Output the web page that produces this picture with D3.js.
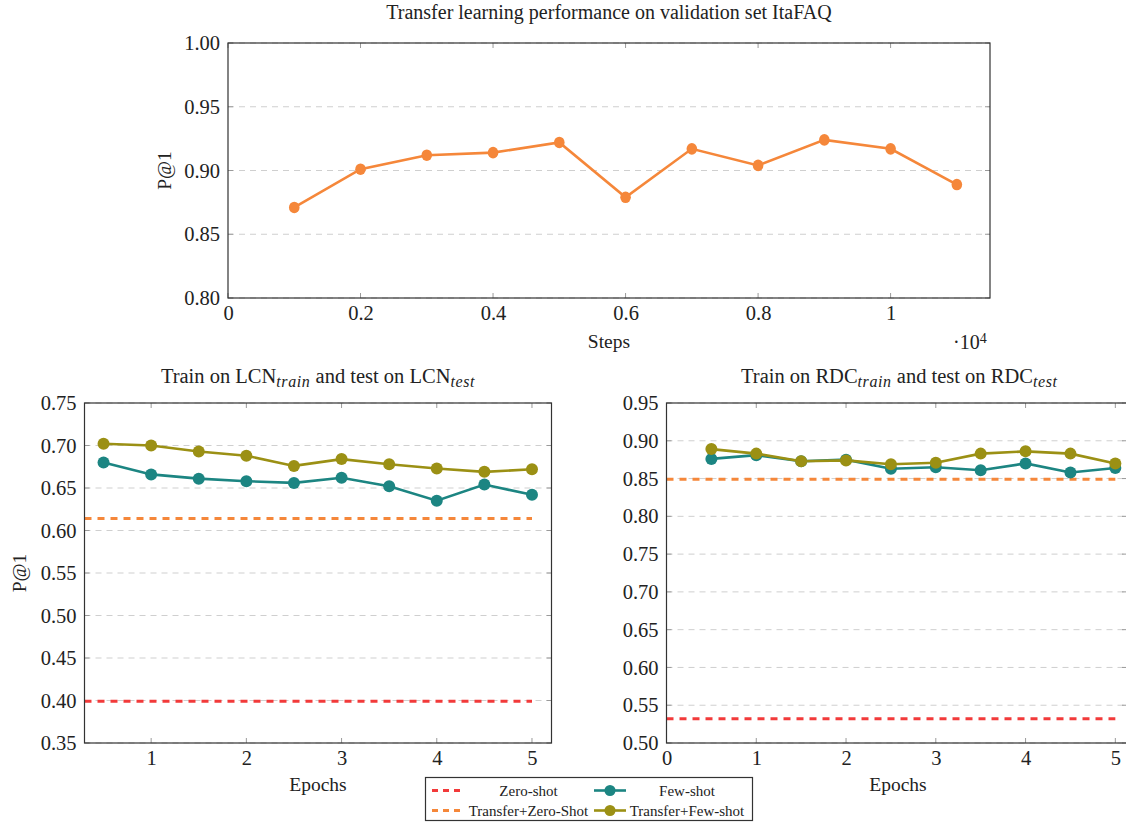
<!DOCTYPE html>
<html><head><meta charset="utf-8">
<script src="https://cdn.jsdelivr.net/npm/d3@7"></script>
<style>body{margin:0;background:#fff} svg{display:block} text{font-family:"Liberation Serif","DejaVu Serif",serif;fill:#222}</style>
</head><body>
<svg id="c" width="1126" height="822"></svg>
<script>
// ---- data ----
const topSteps = [1000, 2000, 3000, 4000, 5000, 6000, 7000, 8000, 9000, 10000, 11000];
const topP1 = [0.871, 0.901, 0.912, 0.914, 0.922, 0.879, 0.917, 0.904, 0.924, 0.917, 0.889];
const topXTicks = [0, 2000, 4000, 6000, 8000, 10000];
const topXTickLabels = ["0", "0.2", "0.4", "0.6", "0.8", "1"];
const topYTicks = [0.80, 0.85, 0.90, 0.95, 1.00];

const epochs = [0.5, 1, 1.5, 2, 2.5, 3, 3.5, 4, 4.5, 5];
const lcnFewShot = [0.680, 0.666, 0.661, 0.658, 0.656, 0.662, 0.652, 0.635, 0.654, 0.642];
const lcnTransferFewShot = [0.702, 0.700, 0.693, 0.688, 0.676, 0.684, 0.678, 0.673, 0.669, 0.672];
const lcnZeroShot = 0.399;
const lcnTransferZeroShot = 0.614;
const lcnXTicks = [1, 2, 3, 4, 5];
const lcnYTicks = [0.35, 0.40, 0.45, 0.50, 0.55, 0.60, 0.65, 0.70, 0.75];

const rdcFewShot = [0.876, 0.881, 0.873, 0.875, 0.863, 0.865, 0.861, 0.870, 0.858, 0.864];
const rdcTransferFewShot = [0.889, 0.883, 0.873, 0.874, 0.869, 0.871, 0.883, 0.886, 0.883, 0.870];
const rdcZeroShot = 0.532;
const rdcTransferZeroShot = 0.849;
const rdcXTicks = [0, 1, 2, 3, 4, 5];
const rdcYTicks = [0.50, 0.55, 0.60, 0.65, 0.70, 0.75, 0.80, 0.85, 0.90, 0.95];

const legendNames = ["Zero-shot", "Few-shot", "Transfer+Zero-Shot", "Transfer+Few-shot"];

const C = {red: "#f23a3a", orange: "#f5873a", teal: "#1c8582", olive: "#9b9014", frame: "#333", grid: "#cfcfcf", tick: "#9a9a9a"};
const FONT = "Liberation Serif, DejaVu Serif, serif";

const svg = d3.select("#c");
let clipId = 0;

function panel(o) {
  const x = d3.scaleLinear().domain(o.xDomain).range([o.left, o.right]);
  const y = d3.scaleLinear().domain(o.yDomain).range([o.bottom, o.top]);
  const g = svg.append("g");
  const id = "clip" + (clipId++);
  g.append("clipPath").attr("id", id).append("rect")
    .attr("x", o.left).attr("y", o.top).attr("width", o.right - o.left).attr("height", o.bottom - o.top);

  // grid
  g.append("g").selectAll("line").data(o.yTicks).join("line")
    .attr("x1", o.left).attr("x2", o.right).attr("y1", d => y(d)).attr("y2", d => y(d))
    .attr("stroke", C.grid).attr("stroke-width", 1).attr("stroke-dasharray", "6,5");

  // tick marks inside, all sides
  const tl = 5;
  const tk = g.append("g").attr("stroke", C.tick).attr("stroke-width", 1);
  o.yTicks.forEach(v => {
    tk.append("line").attr("x1", o.left).attr("x2", o.left + tl).attr("y1", y(v)).attr("y2", y(v));
    tk.append("line").attr("x1", o.right).attr("x2", o.right - tl).attr("y1", y(v)).attr("y2", y(v));
  });
  o.xTicks.forEach(v => {
    tk.append("line").attr("y1", o.bottom).attr("y2", o.bottom - tl).attr("x1", x(v)).attr("x2", x(v));
    tk.append("line").attr("y1", o.top).attr("y2", o.top + tl).attr("x1", x(v)).attr("x2", x(v));
  });

  // axis labels via d3 axes (labels only)
  const yAxis = d3.axisLeft(y).tickValues(o.yTicks).tickSize(0).tickPadding(8).tickFormat(d3.format(".2f"));
  const ya = g.append("g").attr("transform", `translate(${o.left},0)`).call(yAxis);
  ya.select(".domain").remove();
  ya.attr("font-family", FONT).attr("font-size", o.fs);
  ya.selectAll("text").attr("fill", "#222");

  const xAxis = d3.axisBottom(x).tickValues(o.xTicks).tickSize(0).tickPadding(7)
    .tickFormat((d, i) => o.xLabels ? o.xLabels[i] : d3.format("d")(d));
  const xa = g.append("g").attr("transform", `translate(0,${o.bottom})`).call(xAxis);
  xa.select(".domain").remove();
  xa.attr("font-family", FONT).attr("font-size", o.fs);
  xa.selectAll("text").attr("fill", "#222");

  const plot = g.append("g").attr("clip-path", `url(#${id})`);
  // baselines
  (o.baselines || []).forEach(b => {
    plot.append("path").datum([[o.xDomain[0], b.v], [b.xEnd, b.v]])
      .attr("d", d3.line().x(d => x(d[0])).y(d => y(d[1])))
      .attr("stroke", b.color).attr("stroke-width", 3).attr("stroke-dasharray", "7,6").attr("fill", "none");
  });
  const g2 = g.append("g");
  (o.series || []).forEach(s => {
    const pts = s.xs.map((xv, i) => [xv, s.ys[i]]);
    g2.append("path").datum(pts)
      .attr("d", d3.line().x(d => x(d[0])).y(d => y(d[1])))
      .attr("stroke", s.color).attr("stroke-width", s.lw).attr("fill", "none");
    g2.selectAll(null).data(pts).join("ellipse")
      .attr("cx", d => x(d[0])).attr("cy", d => y(d[1]))
      .attr("rx", s.r).attr("ry", s.ry || s.r).attr("fill", s.color);
  });

  // frame
  g.append("rect").attr("x", o.left).attr("y", o.top).attr("width", o.right - o.left).attr("height", o.bottom - o.top)
    .attr("fill", "none").attr("stroke", C.frame).attr("stroke-width", 1.2);

  // title
  const t = g.append("text").attr("x", (o.left + Math.min(o.right, 1126)) / 2 + (o.titleDx || 0)).attr("y", o.titleY)
    .attr("text-anchor", "middle").attr("font-size", o.tfs);
  o.title.forEach(p => {
    const ts = t.append("tspan").text(p.t);
    if (p.sub) ts.attr("font-style", "italic").attr("font-size", o.tfs * 0.78).attr("baseline-shift", "-22%")
      .attr("letter-spacing", 0.6);
  });
  // x label
  g.append("text").attr("x", o.xlabelX).attr("y", o.xlabelY).attr("text-anchor", "middle")
    .attr("font-size", o.lfs).text(o.xlabel);
  if (o.ylabel) {
    g.append("text").attr("transform", `translate(${o.ylabelX},${(o.top + o.bottom) / 2}) rotate(-90)`)
      .attr("text-anchor", "middle").attr("font-size", o.lfs).text(o.ylabel);
  }
  return {x, y, g};
}

// ---- top chart ----
const topPanel = panel({
  left: 228, right: 990, top: 43, bottom: 298,
  xDomain: [0, 11500], yDomain: [0.80, 1.00],
  xTicks: topXTicks, xLabels: topXTickLabels, yTicks: topYTicks,
  fs: 20.5, tfs: 20, lfs: 19.5,
  title: [{t: "Transfer learning performance on validation set ItaFAQ"}], titleY: 19,
  xlabel: "Steps", xlabelX: 609, xlabelY: 348, ylabel: "P@1", ylabelX: 171,
  series: [{xs: topSteps, ys: topP1, color: C.orange, lw: 2.6, r: 5.3, ry: 5.8}]
});
// ·10^4 multiplier
const m = topPanel.g.append("text").attr("x", 953).attr("y", 349).attr("font-size", 20);
m.append("tspan").text("·10");
m.append("tspan").text("4").attr("font-size", 14).attr("baseline-shift", "45%");

// ---- bottom left ----
panel({
  left: 84.5, right: 551.5, top: 403, bottom: 743,
  xDomain: [0.3, 5.205], yDomain: [0.35, 0.75],
  xTicks: lcnXTicks, yTicks: lcnYTicks,
  fs: 20.5, tfs: 20.5, lfs: 19.5,
  title: [{t: "Train on LCN"}, {t: "train", sub: true}, {t: " and test on LCN"}, {t: "test", sub: true}], titleY: 383,
  xlabel: "Epochs", xlabelX: 318, xlabelY: 791, ylabel: "P@1", ylabelX: 26,
  baselines: [{v: lcnZeroShot, color: C.red, xEnd: 5}, {v: lcnTransferZeroShot, color: C.orange, xEnd: 5}],
  series: [{xs: epochs, ys: lcnFewShot, color: C.teal, lw: 2.6, r: 6},
           {xs: epochs, ys: lcnTransferFewShot, color: C.olive, lw: 2.6, r: 6}]
});

// ---- bottom right ----
panel({
  left: 666.5, right: 1127, top: 403, bottom: 743,
  xDomain: [0, 5.13], yDomain: [0.50, 0.95],
  xTicks: rdcXTicks, yTicks: rdcYTicks,
  fs: 20.5, tfs: 20.5, lfs: 19.5,
  title: [{t: "Train on RDC"}, {t: "train", sub: true}, {t: " and test on RDC"}, {t: "test", sub: true}], titleY: 383, titleDx: 3,
  xlabel: "Epochs", xlabelX: 898, xlabelY: 791,
  baselines: [{v: rdcZeroShot, color: C.red, xEnd: 5}, {v: rdcTransferZeroShot, color: C.orange, xEnd: 5}],
  series: [{xs: epochs, ys: rdcFewShot, color: C.teal, lw: 2.6, r: 6},
           {xs: epochs, ys: rdcTransferFewShot, color: C.olive, lw: 2.6, r: 6}]
});

// ---- legend ----
const lg = svg.append("g");
lg.append("rect").attr("x", 425.5).attr("y", 777.5).attr("width", 327).attr("height", 43)
  .attr("fill", "#fff").attr("stroke", C.frame).attr("stroke-width", 1.2);
const legendItems = [
  {name: legendNames[0], color: C.red, dash: true, col: 0, row: 0},
  {name: legendNames[1], color: C.teal, dash: false, col: 1, row: 0},
  {name: legendNames[2], color: C.orange, dash: true, col: 0, row: 1},
  {name: legendNames[3], color: C.olive, dash: false, col: 1, row: 1}
];
legendItems.forEach(it => {
  const sx = it.col === 0 ? 432 : 594;
  const tx = it.col === 0 ? 528.5 : 687;
  const yy = it.row === 0 ? 790.5 : 810.5;
  if (it.dash) {
    lg.append("line").attr("x1", sx).attr("x2", sx + 29).attr("y1", yy).attr("y2", yy)
      .attr("stroke", it.color).attr("stroke-width", 3).attr("stroke-dasharray", "6,5");
  } else {
    lg.append("line").attr("x1", sx).attr("x2", sx + 32).attr("y1", yy).attr("y2", yy)
      .attr("stroke", it.color).attr("stroke-width", 2.6);
    lg.append("circle").attr("cx", sx + 16).attr("cy", yy).attr("r", 5.5).attr("fill", it.color);
  }
  lg.append("text").attr("x", tx).attr("y", yy + 5).attr("text-anchor", "middle")
    .attr("font-size", 15).text(it.name);
});
</script>
</body></html>
